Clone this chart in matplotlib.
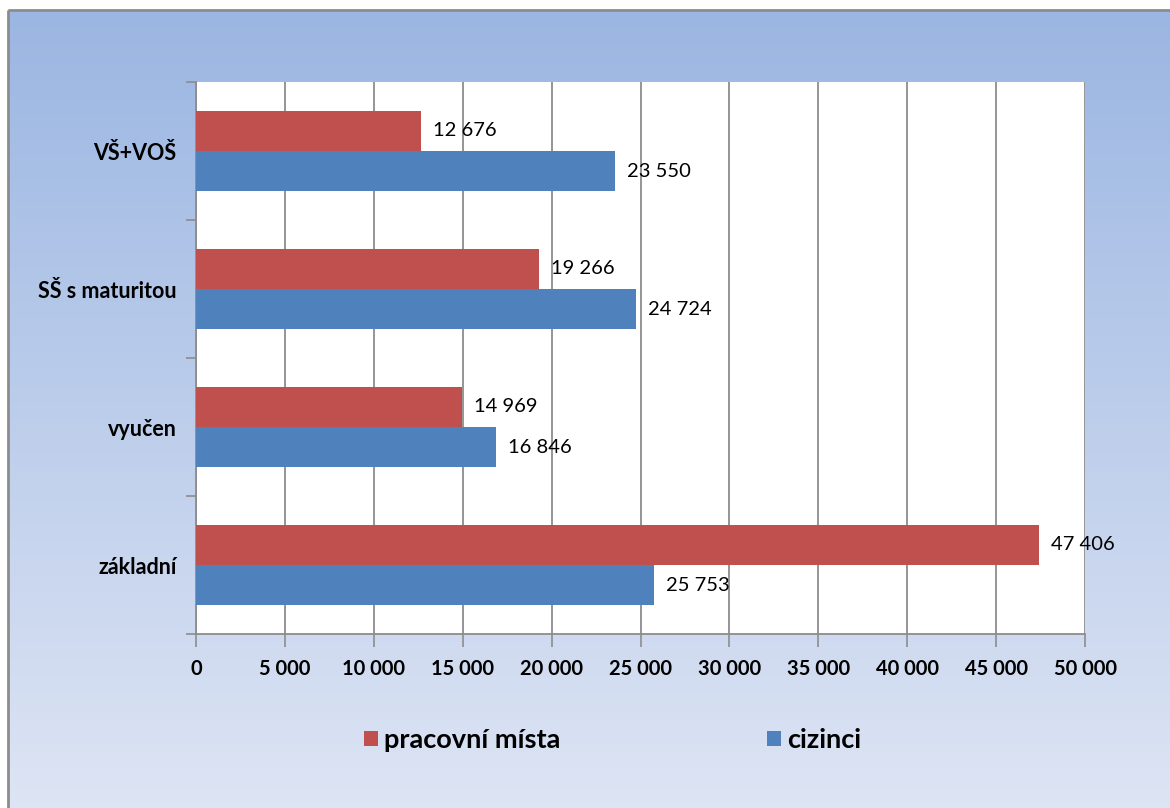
import numpy as np
import matplotlib.pyplot as plt
from matplotlib.patches import Rectangle
from matplotlib.ticker import FuncFormatter

plt.rcParams['font.family'] = ['Lato', 'DejaVu Sans']

categories = ['základní', 'vyučen', 'SŠ s maturitou', 'VŠ+VOŠ']
pracovni_mista = [47406, 14969, 19266, 12676]
cizinci = [25753, 16846, 24724, 23550]
series_names = ['pracovní místa', 'cizinci']
red = '#C0504D'
blue = '#4F81BD'


def fmt(v, pos=None):
    return '{:,}'.format(int(v)).replace(',', ' ')


fig = plt.figure(figsize=(11.7, 8.08), dpi=100)

# gradient background inside the chart frame
bg = fig.add_axes([0, 0, 1, 1], zorder=-10)
bg.set_xlim(0, 1170)
bg.set_ylim(808, 0)
bg.axis('off')
grad = np.linspace(0, 1, 256).reshape(-1, 1)
top = np.array([155, 182, 226]) / 255
bottom = np.array([222, 229, 244]) / 255
img = top + grad[..., None] * (bottom - top)
img = np.repeat(img, 2, axis=1)
bg.imshow(img, extent=[8, 1175, 815, 10], aspect='auto')
bg.add_patch(Rectangle((8, 10), 1170, 810, fill=False, edgecolor='#8c8c8c', linewidth=2))

ax = fig.add_axes([196 / 1170, 1 - 634 / 808, 889 / 1170, 552 / 808])
ax.set_facecolor('white')
y = np.arange(len(categories))
h = 0.29
b1 = ax.barh(y + h / 2, pracovni_mista, height=h, color=red, label=series_names[0], zorder=3)
b2 = ax.barh(y - h / 2, cizinci, height=h, color=blue, label=series_names[1], zorder=3)

for bars, vals in [(b1, pracovni_mista), (b2, cizinci)]:
    for bar, v in zip(bars, vals):
        ax.annotate(fmt(v), (v, bar.get_y() + bar.get_height() / 2), xytext=(12, 0),
                    textcoords='offset pixels', va='center', ha='left', fontsize=14.5, zorder=5)

ax.set_xlim(0, 50000)
ax.set_ylim(-0.5, 3.5)
ax.set_xticks(np.arange(0, 50001, 5000))
ax.xaxis.set_major_formatter(FuncFormatter(fmt))
ax.set_yticks(y)
ax.set_yticklabels(categories, fontweight='bold', fontsize=15.5)
ax.set_yticks(np.arange(-0.5, 4, 1), minor=True)
ax.tick_params(axis='y', which='major', length=0, pad=14)
ax.tick_params(axis='y', which='minor', length=7, color='#8c8c8c', width=1.2)
ax.tick_params(axis='x', length=9, color='#8c8c8c', width=1.2, pad=9, labelsize=14.5)
for lab in ax.get_xticklabels():
    lab.set_fontweight('bold')
ax.grid(axis='x', color='#8c8c8c', linewidth=1.3, zorder=0)
ax.set_axisbelow(True)
for s in ['top', 'right']:
    ax.spines[s].set_visible(False)
for s in ['left', 'bottom']:
    ax.spines[s].set_color('#8c8c8c')
    ax.spines[s].set_linewidth(1.3)

fig.legend(handles=[b1, b2], loc='center', bbox_to_anchor=(0.5235, 1 - 740 / 808), ncol=2,
           frameon=False, handlelength=0.52, handleheight=0.52, handletextpad=0.25,
           columnspacing=7.6, prop={'weight': 'bold', 'size': 19.5})

fig.savefig('out.png', dpi=100)
